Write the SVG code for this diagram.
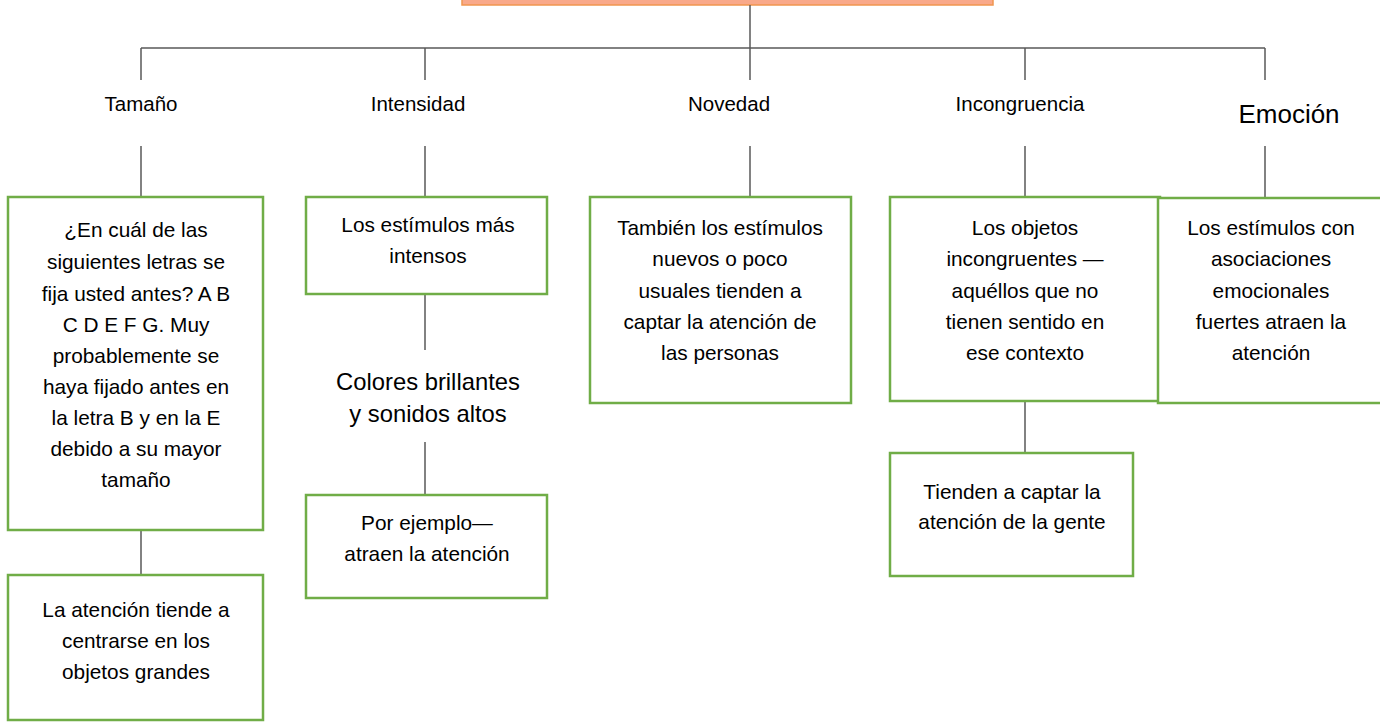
<svg xmlns="http://www.w3.org/2000/svg" width="1380" height="723" viewBox="0 0 1380 723">
<style>
.box{fill:#fff;stroke:#70AD47;stroke-width:2.5}
.t{font-family:"Liberation Sans",Arial,sans-serif;font-size:20.8px;fill:#000;text-anchor:middle}
.lb{font-family:"Liberation Sans",Arial,sans-serif;font-size:20.5px;fill:#000;text-anchor:middle}
.big{font-size:23.8px}
.con{stroke:#595959;stroke-width:1.5;fill:none}
</style>
<rect width="1380" height="723" fill="#fff"/>
<g id="root"><rect x="462" y="-10" width="531" height="15" fill="#F9A98A" stroke="#F0964F" stroke-width="1.5"/></g>
<g id="connectors" class="con">
<path d="M750 5V48M141 48H1265M141 48V80M425 48V80M750 48V80M1025 48V80M1265 48V80"/>
<path d="M141 146V197M425 146V197M750 146V197M1025 146V197M1265 146V197"/>
<path d="M141 530V575M425 294V350M425 442V495M1025 401V453"/>
</g>
<g id="l-tamano"><text class="lb" x="141" y="111">Tamaño</text></g>
<g id="l-intensidad"><text class="lb" x="418" y="111">Intensidad</text></g>
<g id="l-novedad"><text class="lb" x="729" y="111">Novedad</text></g>
<g id="l-incongruencia"><text class="lb" x="1020" y="111">Incongruencia</text></g>
<g id="l-emocion"><text class="lb" x="1289" y="123" style="font-size:26px">Emoción</text></g>
<g id="b-tamano"><rect class="box" x="8" y="197" width="255" height="333"/>
<text class="t"><tspan x="136" y="237">¿En cuál de las</tspan><tspan x="136" y="269">siguientes letras se</tspan><tspan x="136" y="301">fija usted antes? A B</tspan><tspan x="136" y="332">C D E F G. Muy</tspan><tspan x="136" y="363">probablemente se</tspan><tspan x="136" y="394">haya fijado antes en</tspan><tspan x="136" y="425">la letra B y en la E</tspan><tspan x="136" y="456">debido a su mayor</tspan><tspan x="136" y="487">tamaño</tspan></text></g>
<g id="b-tamano2"><rect class="box" x="8" y="575" width="255" height="145"/>
<text class="t"><tspan x="136" y="617">La atención tiende a</tspan><tspan x="136" y="648">centrarse en los</tspan><tspan x="136" y="679">objetos grandes</tspan></text></g>
<g id="b-intensidad"><rect class="box" x="306" y="197" width="241" height="97"/>
<text class="t"><tspan x="428" y="232">Los estímulos más</tspan><tspan x="428" y="263">intensos</tspan></text></g>
<g id="t-colores"><text class="t big"><tspan x="428" y="390">Colores brillantes</tspan><tspan x="428" y="422">y sonidos altos</tspan></text></g>
<g id="b-ejemplo"><rect class="box" x="306" y="495" width="241" height="103"/>
<text class="t"><tspan x="427" y="530">Por ejemplo—</tspan><tspan x="427" y="561">atraen la atención</tspan></text></g>
<g id="b-novedad"><rect class="box" x="590" y="197" width="261" height="206"/>
<text class="t"><tspan x="720" y="235">También los estímulos</tspan><tspan x="720" y="266">nuevos o poco</tspan><tspan x="720" y="298">usuales tienden a</tspan><tspan x="720" y="329">captar la atención de</tspan><tspan x="720" y="360">las personas</tspan></text></g>
<g id="b-incongruencia"><rect class="box" x="890" y="197" width="270" height="204"/>
<text class="t"><tspan x="1025" y="235">Los objetos</tspan><tspan x="1025" y="266">incongruentes —</tspan><tspan x="1025" y="298">aquéllos que no</tspan><tspan x="1025" y="329">tienen sentido en</tspan><tspan x="1025" y="360">ese contexto</tspan></text></g>
<g id="b-incong2"><rect class="box" x="890" y="453" width="243" height="123"/>
<text class="t"><tspan x="1012" y="499">Tienden a captar la</tspan><tspan x="1012" y="529">atención de la gente</tspan></text></g>
<g id="b-emocion"><rect class="box" x="1158" y="198" width="240" height="205"/>
<text class="t"><tspan x="1271" y="235">Los estímulos con</tspan><tspan x="1271" y="266">asociaciones</tspan><tspan x="1271" y="298">emocionales</tspan><tspan x="1271" y="329">fuertes atraen la</tspan><tspan x="1271" y="360">atención</tspan></text></g>
</svg>
